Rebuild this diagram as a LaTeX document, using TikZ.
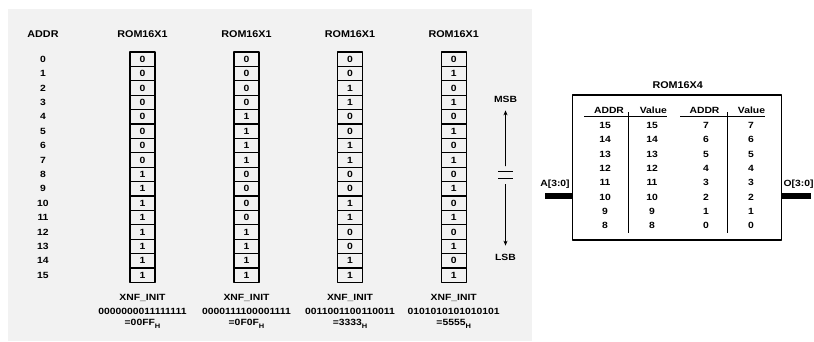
\documentclass[tikz,border=0pt]{standalone}
\usepackage{fontspec}
\setmainfont{Liberation Sans}
\usetikzlibrary{arrows.meta}

\newcommand\hsub[1]{\raisebox{-3pt}{\fontsize{6.5}{7}\selectfont #1}}
\newcommand\wide[1]{\scalebox{1.15}[1]{#1}}

\begin{document}
\begin{tikzpicture}[x=1pt,y=-1pt,join=round,
    lbl/.style={font=\bfseries\fontsize{9}{10}\selectfont,inner sep=0pt,xscale=1.15},
    ttl/.style={font=\bfseries\fontsize{9.8}{12}\selectfont,inner sep=0pt,xscale=1.1},
    bitcell/.style={draw,line width=1.1pt,minimum width=25pt,minimum height=14.4pt,
        inner sep=0pt,font=\bfseries\fontsize{9}{10}\selectfont},
    bus/.style={line width=6pt}] % ROM16X4 from four ROM16X1
  \useasboundingbox (0,0) rectangle (814,341);
  \fill[black!5] (8,9) rectangle (532,341);

  % address column
  \node[ttl] (addr) at (43,34) {ADDR};
  \foreach \a in {0,...,15}
    \node[lbl] (a\a) at (43,59.2+14.4*\a) {\a};

  % the four ROM16X1
  \foreach \c/\x/\p/\bits/\hex in {1/142.5/8/0000000011111111/00FF,
      2/246.5/4/0000111100001111/0F0F,
      3/350/2/0011001100110011/3333,
      4/453.7/1/0101010101010101/5555} {
    \node[ttl] (rom\c) at (\x,34) {ROM16X1};
    \foreach \a in {0,...,15} {
      \pgfmathtruncatemacro\b{mod(floor(\a/\p),2)}
      \node[bitcell] (b\c-\a) at (\x,59.2+14.4*\a) {\wide{\b}};
    }
    \node[lbl] (init\c) at (\x,297.7) {XNF\_INIT};
    \node[lbl] (bits\c) at (\x,311) {\bits};
    \node[lbl] (hex\c) at (\x,324) {=\hex\hsub{H}};
  }

  % MSB / LSB
  \node[lbl] (msb) at (505.5,99) {MSB};
  \node[lbl] (lsb) at (505.5,257) {LSB};
  \coordinate (eqtop) at (505.5,166);
  \coordinate (eqbot) at (505.5,184);
  \draw[-{Stealth[length=5pt,width=4pt]},line width=.8pt,shorten >=8pt] (eqtop) -- (msb);
  \draw[-{Stealth[length=5pt,width=4pt]},line width=.8pt,shorten >=8pt] (eqbot) -- (lsb);
  \draw[line width=.8pt] (498,171) -- (513,171) (498,178) -- (513,178);

  % ROM16X4
  \node[draw,line width=1.1pt,minimum width=209pt,minimum height=145pt,inner sep=0pt]
      (rom) at (677.4,167.5) {};
  \node[ttl] (romname) at (677.7,85) {ROM16X4};
  \node[lbl] (ain) at (555,184.5) {A[3:0]};
  \node[lbl] (oout) at (798.5,184.5) {O[3:0]};
  \coordinate (abus) at (545,195.7);
  \coordinate (obus) at (811,195.7);
  \draw[bus] (abus) -- (abus -| rom.west);
  \draw[bus] (obus) -- (obus -| rom.east);

  \node[lbl] (h1) at (609,110) {ADDR};
  \node[lbl] (h2) at (653.3,110) {Value};
  \node[lbl] (h3) at (704.5,110) {ADDR};
  \node[lbl] (h4) at (751.5,110) {Value};
  \draw[line width=.8pt] (584,116.7) -- (667,116.7) (680,116.7) -- (765,116.7);
  \draw[line width=.8pt] (628.3,112) -- (628.3,233) (727,112) -- (727,233);
  \foreach \i in {0,...,7} {
    \pgfmathtruncatemacro\hi{15-\i}
    \pgfmathtruncatemacro\lo{7-\i}
    \node[lbl] (ah\i) at (605,125.5+14.3*\i) {\hi};
    \node[lbl] (vh\i) at (652,125.5+14.3*\i) {\hi};
    \node[lbl] (al\i) at (706,125.5+14.3*\i) {\lo};
    \node[lbl] (vl\i) at (751,125.5+14.3*\i) {\lo};
  }
\end{tikzpicture}
\end{document}
